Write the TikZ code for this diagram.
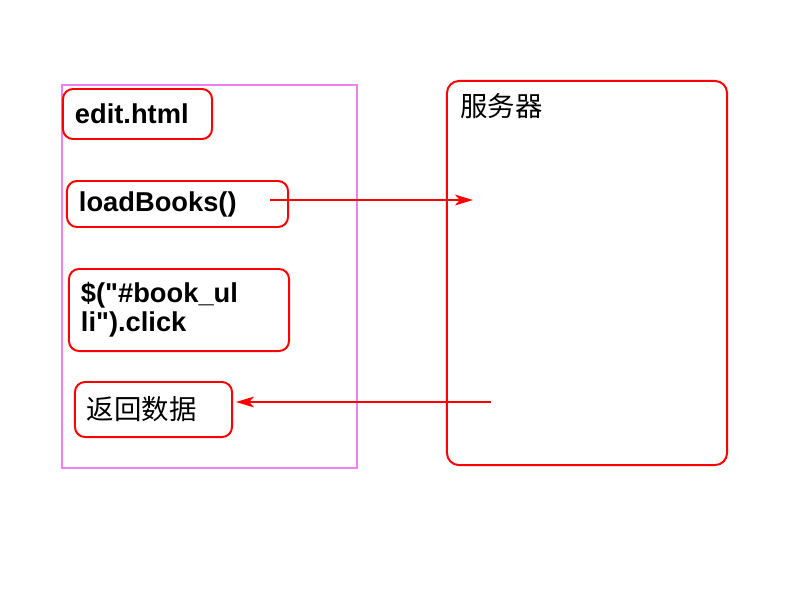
\documentclass[tikz,border=0pt]{standalone}
\usepackage{fontspec}
\setmainfont{Liberation Sans}[Ligatures=TeXOff]
\newfontfamily\cjk{Noto Sans CJK SC}
\usepackage{tikz}
\usetikzlibrary{arrows.meta}
\definecolor{framepink}{RGB}{240,128,240}

\begin{document}
\begin{tikzpicture}[x=0.025cm, y=-0.025cm]
	\tikzstyle{box}=[draw=red, line width=1.4pt, rounded corners=0.25cm, inner xsep=0.3cm, align=left, text width=#1]
	\tikzstyle{code}=[font=\fontsize{19.4}{20.8}\selectfont\bfseries]
	\tikzstyle{zh}=[font=\fontsize{19.5}{22}\selectfont\cjk]
	\tikzstyle{link}=[draw=red, line width=1.1pt, -{Stealth[length=0.45cm, width=0.27cm, inset=0.12cm]}]

	\useasboundingbox (0,0) rectangle (800,600);

	% Page frame
	\node[draw=framepink, line width=1.4pt, minimum width=7.375cm, minimum height=9.575cm] at (209.5,276.5) (page) {};

	% Page parts
	\node[box=3.125cm, code, minimum height=1.25cm] at (137.5,114) (part_1) {edit.html};
	\node[box=4.925cm, code, minimum height=1.15cm] at (177.5,204) (part_2) {loadBooks()};
	\node[box=4.9cm, code, minimum height=2.05cm] at (179,310) (part_3) {\$("\#book\_ul\\li").click};
	\node[box=3.325cm, zh, minimum height=1.375cm] at (153.5,409.5) (part_4) {返回数据};

	% Server
	\node[draw=red, line width=1.4pt, rounded corners=0.3cm, minimum width=7cm, minimum height=9.6cm] at (587,273) (server) {};
	\node[zh, anchor=north west, inner sep=0pt] at (460,93) (server_label) {服务器};

	%--------------------------------------------%
	%                 connections                %
	%--------------------------------------------%
	\coordinate (load_out) at (270,200);
	\coordinate (server_in) at (473,200);
	\coordinate (server_out) at (491,402);

	\draw[link] (load_out) -- (server_in);
	\draw[link] (server_out) -- ([xshift=0.075cm]server_out -| part_4.east);
\end{tikzpicture}
\end{document}
